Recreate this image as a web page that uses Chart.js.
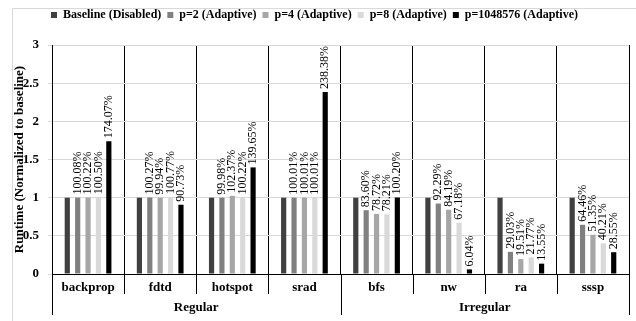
<!DOCTYPE html>
<html>
<head>
<meta charset="utf-8">
<script src="https://cdn.jsdelivr.net/npm/chart.js@4.4.1/dist/chart.umd.min.js"></script>
<style>
  html, body { margin: 0; padding: 0; background: #fff; }
  #wrap { width: 636px; height: 321px; position: relative; }
</style>
</head>
<body>
<div id="wrap"><canvas id="c" width="636" height="321"></canvas></div>
<script>
// Benchmarks and their suites
const benchmarks = ['backprop', 'fdtd', 'hotspot', 'srad', 'bfs', 'nw', 'ra', 'sssp'];
const suites = ['Regular', 'Irregular'];
const seriesNames = ['Baseline (Disabled)', 'p=2 (Adaptive)', 'p=4 (Adaptive)', 'p=8 (Adaptive)', 'p=1048576 (Adaptive)'];
const seriesColors = ['#404040', '#808080', '#a6a6a6', '#d9d9d9', '#000000'];

// Runtime in percent of baseline
const baselinePct = [100, 100, 100, 100, 100, 100, 100, 100];
const p2Pct = [100.08, 100.27, 99.98, 100.01, 83.60, 92.29, 29.03, 64.46];
const p4Pct = [100.22, 99.94, 102.37, 100.01, 78.72, 84.19, 19.51, 51.35];
const p8Pct = [100.50, 100.77, 100.22, 100.01, 78.21, 67.18, 21.77, 40.21];
const pMaxPct = [174.07, 90.73, 139.65, 238.38, 100.20, 6.04, 13.55, 28.55];

// Value axis
const yMin = 0, yMax = 3, yStep = 0.5;

const seriesPct = [baselinePct, p2Pct, p4Pct, p8Pct, pMaxPct];
const labelledSeries = [false, true, true, true, true];

const SERIF = "'Liberation Serif', 'Times New Roman', serif";

// White page with a thin frame line on the top and left
const framePlugin = {
  id: 'frame',
  beforeDraw(chart) {
    const ctx = chart.ctx;
    ctx.save();
    ctx.fillStyle = '#fff';
    ctx.fillRect(0, 0, chart.width, chart.height);
    ctx.strokeStyle = '#d9d9d9';
    ctx.lineWidth = 1;
    ctx.beginPath();
    ctx.moveTo(12.5, chart.height);
    ctx.lineTo(12.5, 8.5);
    ctx.lineTo(chart.width, 8.5);
    ctx.stroke();
    ctx.restore();
  }
};

// Extra room between the legend row and the plot
const legendGapPlugin = {
  id: 'legendGap',
  beforeLayout(chart) {
    const lg = chart.legend;
    if (lg && !lg._gapPatched) {
      lg._gapPatched = true;
      const baseFit = lg.fit;
      lg.fit = function () {
        baseFit.call(this);
        this.height += 14;
      };
    }
  }
};

// Separator lines under the axis: short between benchmarks, long between suites
const separatorPlugin = {
  id: 'separators',
  afterDraw(chart) {
    const xs = chart.scales.x;
    const ctx = chart.ctx;
    const n = benchmarks.length;
    const perSuite = n / suites.length;
    const step = (xs.right - xs.left) / n;
    const y0 = chart.chartArea.bottom;
    ctx.save();
    ctx.strokeStyle = '#000';
    ctx.lineWidth = 1;
    for (let i = 0; i <= n; i++) {
      const x = Math.round(xs.left + i * step) + 0.5;
      const yEnd = (i % perSuite === 0) ? y0 + 41 : y0 + 20;
      ctx.beginPath();
      ctx.moveTo(x, y0);
      ctx.lineTo(x, yEnd);
      ctx.stroke();
    }
    ctx.restore();
  }
};

// Rotated percentage labels above the adaptive bars
const valueLabelPlugin = {
  id: 'valueLabels',
  afterDatasetsDraw(chart) {
    const ctx = chart.ctx;
    ctx.save();
    ctx.font = '12px ' + SERIF;
    ctx.fillStyle = '#000';
    ctx.textAlign = 'left';
    ctx.textBaseline = 'middle';
    chart.data.datasets.forEach((ds, di) => {
      if (!labelledSeries[di]) return;
      const meta = chart.getDatasetMeta(di);
      meta.data.forEach((bar, i) => {
        const text = seriesPct[di][i].toFixed(2) + '%';
        ctx.save();
        ctx.translate(bar.x, bar.y - 3);
        ctx.rotate(-Math.PI / 2);
        ctx.fillText(text, 0, 0);
        ctx.restore();
      });
    });
    ctx.restore();
  }
};

const datasets = seriesPct.map((arr, k) => ({
  label: seriesNames[k],
  data: arr.map(v => v / 100),
  backgroundColor: seriesColors[k],
  borderWidth: 0,
  categoryPercentage: 0.72,
  barPercentage: 0.5
}));

new Chart(document.getElementById('c'), {
  type: 'bar',
  data: { labels: benchmarks, datasets },
  plugins: [framePlugin, legendGapPlugin, separatorPlugin, valueLabelPlugin],
  options: {
    responsive: false,
    devicePixelRatio: 1,
    animation: false,
    layout: { padding: { left: 0, right: 7, top: 3, bottom: 1 } },
    plugins: {
      legend: {
        position: 'top',
        labels: {
          boxWidth: 6,
          boxHeight: 6,
          padding: 6,
          color: '#000',
          font: { family: SERIF, size: 12, weight: 'bold' }
        }
      },
      tooltip: { enabled: false }
    },
    scales: {
      x: {
        type: 'category',
        offset: true,
        grid: { offset: true, color: '#000', lineWidth: 1, drawTicks: false },
        border: { color: '#000' },
        ticks: {
          color: '#000',
          padding: 6,
          maxRotation: 0,
          autoSkip: false,
          font: { family: SERIF, size: 13, weight: 'bold' }
        },
        afterFit(s) { s.height = 26; }
      },
      x2: {
        type: 'category',
        labels: suites,
        position: 'bottom',
        offset: true,
        grid: { display: false, drawTicks: false },
        border: { display: false },
        ticks: {
          color: '#000',
          padding: 0,
          maxRotation: 0,
          autoSkip: false,
          font: { family: SERIF, size: 13, weight: 'bold' }
        },
        afterFit(s) { s.height = 20; }
      },
      y: {
        min: yMin,
        max: yMax,
        ticks: {
          stepSize: yStep,
          color: '#000',
          padding: 9,
          font: { family: SERIF, size: 13, weight: 'bold' },
          callback: (v) => String(Math.round(v * 10) / 10)
        },
        grid: { color: '#d9d9d9', tickLength: 4, tickColor: '#d9d9d9' },
        border: { color: '#000' },
        title: {
          display: true,
          text: 'Runtime (Normalized to baseline)',
          color: '#000',
          padding: { top: 12, bottom: 0 },
          font: { family: SERIF, size: 13, weight: 'bold' }
        },
        afterFit(s) { s.width = 52; }
      }
    }
  }
});
</script>
</body>
</html>
